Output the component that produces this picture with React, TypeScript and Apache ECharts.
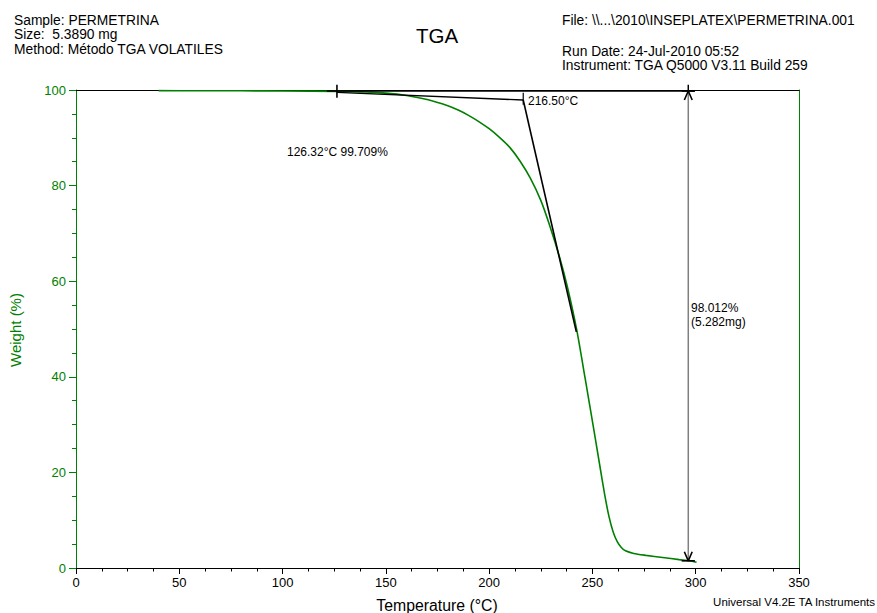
import React, { useEffect, useRef } from "react";
import * as echarts from "echarts";

// TGA weight-loss curve (Temperature °C, Weight %)
const TEMPERATURE = [
  40, 60, 80, 100, 126.32, 140, 150, 160, 170, 180, 185, 190, 195, 200, 205, 210,
  215, 220, 225, 229.5, 234.3, 238, 242.4, 246.5, 250.7, 253.5, 256, 258, 260, 262,
  264, 266, 270, 276, 284, 292, 297, 300.4,
];
const WEIGHT = [
  99.86, 99.85, 99.83, 99.8, 99.709, 99.6, 99.35, 98.85, 98.0, 96.7, 95.8, 94.7,
  93.4, 91.9, 90.1, 88.0, 85.1, 81.5, 76.9, 71.4, 64.7, 58.6, 49.8, 39.6, 28.9,
  21.6, 15.2, 10.8, 7.6, 5.5, 4.3, 3.6, 3.05, 2.65, 2.2, 1.75, 1.5, 1.2,
];

// Onset analysis
const ONSET_START = [126.32, 99.5];
const ONSET_BASE_END = [216.5, 97.9];
const ONSET_TANGENT_END = [242.2, 49.4];
const ONSET_LABEL = "216.50°C";
const START_LABEL = "126.32°C 99.709%";

// Step change
const STEP_T = 296.4;
const STEP_TOP = 99.8;
const STEP_BOTTOM = 1.5;
const STEP_LINE_FROM = 121.4;
const STEP_LINE_TO = 299.6;
const STEP_LABELS = ["98.012%", "(5.282mg)"];

// Axis ticks
const X_MIN = 0, X_MAX = 350, X_INTERVAL = 50;
const Y_MIN = 0, Y_MAX = 100, Y_INTERVAL = 20;

const HEADER_LEFT = ["Sample: PERMETRINA", "Size:  5.3890 mg", "Method: Método TGA VOLATILES"];
const HEADER_RIGHT_FILE = "File: \\\\...\\2010\\INSEPLATEX\\PERMETRINA.001";
const HEADER_RIGHT = ["Run Date: 24-Jul-2010 05:52", "Instrument: TGA Q5000 V3.11 Build 259"];

const FONT = "Liberation Sans, Arial, Helvetica, sans-serif";
const GREEN = "#008000";
const AH_DX = 1.9; // arrowhead half width in °C
const AH_DY = 1.9; // arrowhead height in %

export default function App() {
  const ref = useRef<HTMLDivElement>(null);
  useEffect(() => {
    if (!ref.current) return;
    const chart = echarts.init(ref.current, null, { renderer: "svg" });
    const curve = TEMPERATURE.map((t, i) => [t, WEIGHT[i]]);
    const blackLine = (data: number[][], width = 1.4, color = "#000", z = 3) => ({
      type: "line",
      data,
      showSymbol: false,
      symbol: "none",
      silent: true,
      clip: false,
      z,
      lineStyle: { color, width },
    });
    const txt = (text: string, x: number, y: number, size: number, extra: any = {}) => ({
      type: "text",
      x,
      y,
      silent: true,
      style: {
        text,
        fontSize: size,
        fontFamily: FONT,
        fill: "#000",
        verticalAlign: "middle",
        align: "left",
        ...extra,
      },
    });
    chart.setOption({
      animation: false,
      backgroundColor: "#fff",
      grid: { left: 76, right: 78, top: 90, bottom: 45 },
      xAxis: [
        {
          type: "value",
          min: X_MIN,
          max: X_MAX,
          interval: X_INTERVAL,
          axisLine: { onZero: false, lineStyle: { color: "#000", width: 1 } },
          axisTick: { length: 6, lineStyle: { color: "#000" } },
          minorTick: { show: true, splitNumber: 4, length: 3.5, lineStyle: { color: "#000" } },
          axisLabel: { fontSize: 13, color: "#000", margin: 8, fontFamily: FONT },
          splitLine: { show: false },
          minorSplitLine: { show: false },
        },
        {
          type: "value",
          position: "top",
          min: X_MIN,
          max: X_MAX,
          axisLine: { onZero: false, lineStyle: { color: "#000", width: 1 } },
          axisTick: { show: false },
          axisLabel: { show: false },
          splitLine: { show: false },
        },
      ],
      yAxis: [
        {
          type: "value",
          min: Y_MIN,
          max: Y_MAX,
          interval: Y_INTERVAL,
          axisLine: { onZero: false, lineStyle: { color: GREEN, width: 1 } },
          axisTick: { length: 7, lineStyle: { color: GREEN } },
          minorTick: { show: true, splitNumber: 4, length: 4, lineStyle: { color: GREEN } },
          axisLabel: { fontSize: 13, color: GREEN, margin: 10, fontFamily: FONT },
          splitLine: { show: false },
          minorSplitLine: { show: false },
        },
        {
          type: "value",
          position: "right",
          min: Y_MIN,
          max: Y_MAX,
          axisLine: { show: true, onZero: false, lineStyle: { color: GREEN, width: 1 } },
          axisTick: { show: false },
          axisLabel: { show: false },
          splitLine: { show: false },
        },
      ],
      series: [
        {
          type: "line",
          data: curve,
          showSymbol: false,
          symbol: "none",
          smooth: 0.25,
          silent: true,
          z: 2,
          lineStyle: { color: GREEN, width: 1.6 },
        },
        // step baseline along the top
        blackLine([[STEP_LINE_FROM, STEP_TOP], [STEP_LINE_TO, STEP_TOP]], 1.6),
        // onset start cross
        blackLine([[ONSET_START[0], 101.1], [ONSET_START[0], 98.4]], 1.6),
        // onset baseline and tangent
        blackLine([ONSET_START, ONSET_BASE_END], 1.4),
        blackLine([ONSET_BASE_END, ONSET_TANGENT_END], 1.6),
        blackLine([[ONSET_BASE_END[0], 99.4], [ONSET_BASE_END[0], 96.9]], 1.2),
        // step arrow
        blackLine([[STEP_T, STEP_TOP], [STEP_T, STEP_BOTTOM]], 1.5, "#808080", 3),
        blackLine([[STEP_T, 101.1], [STEP_T, STEP_TOP]], 1.5),
        blackLine([[STEP_T - 3.2, STEP_TOP], [STEP_T + 3.2, STEP_TOP]], 1.6),
        blackLine([[STEP_T - 3.2, STEP_BOTTOM], [STEP_T + 3.2, STEP_BOTTOM]], 1.6),
        blackLine([[STEP_T - AH_DX, STEP_TOP - AH_DY], [STEP_T, STEP_TOP], [STEP_T + AH_DX, STEP_TOP - AH_DY]], 1.6, "#000", 4),
        blackLine([[STEP_T - AH_DX, STEP_BOTTOM + AH_DY], [STEP_T, STEP_BOTTOM], [STEP_T + AH_DX, STEP_BOTTOM + AH_DY]], 1.6, "#000", 4),
      ],
      graphic: [
        txt(HEADER_LEFT[0], 14, 20, 13.8),
        txt(HEADER_LEFT[1], 14, 34.5, 13.8),
        txt(HEADER_LEFT[2], 14, 49, 13.8),
        txt(HEADER_RIGHT_FILE, 562, 20, 13.8),
        txt(HEADER_RIGHT[0], 562, 51.5, 13.8),
        txt(HEADER_RIGHT[1], 562, 65.5, 13.8),
        txt("TGA", 437, 35, 20.5, { align: "center" }),
        txt(ONSET_LABEL, 528, 101, 12),
        txt(START_LABEL, 287, 152, 12),
        txt(STEP_LABELS[0], 691, 308, 12),
        txt(STEP_LABELS[1], 691, 322, 12),
        txt("Temperature (°C)", 437, 605, 15.8, { align: "center" }),
        txt("Universal V4.2E TA Instruments", 875, 602, 11.5, { align: "right" }),
        {
          type: "text",
          x: 15,
          y: 330,
          rotation: Math.PI / 2,
          silent: true,
          style: {
            text: "Weight (%)",
            fontSize: 15,
            fontFamily: FONT,
            fill: GREEN,
            align: "center",
            verticalAlign: "middle",
          },
        },
      ],
    });
    return () => chart.dispose();
  }, []);
  return (
    <div
      ref={ref}
      style={{ position: "absolute", left: 0, top: 0, width: 877, height: 613, background: "#fff" }}
    />
  );
}
